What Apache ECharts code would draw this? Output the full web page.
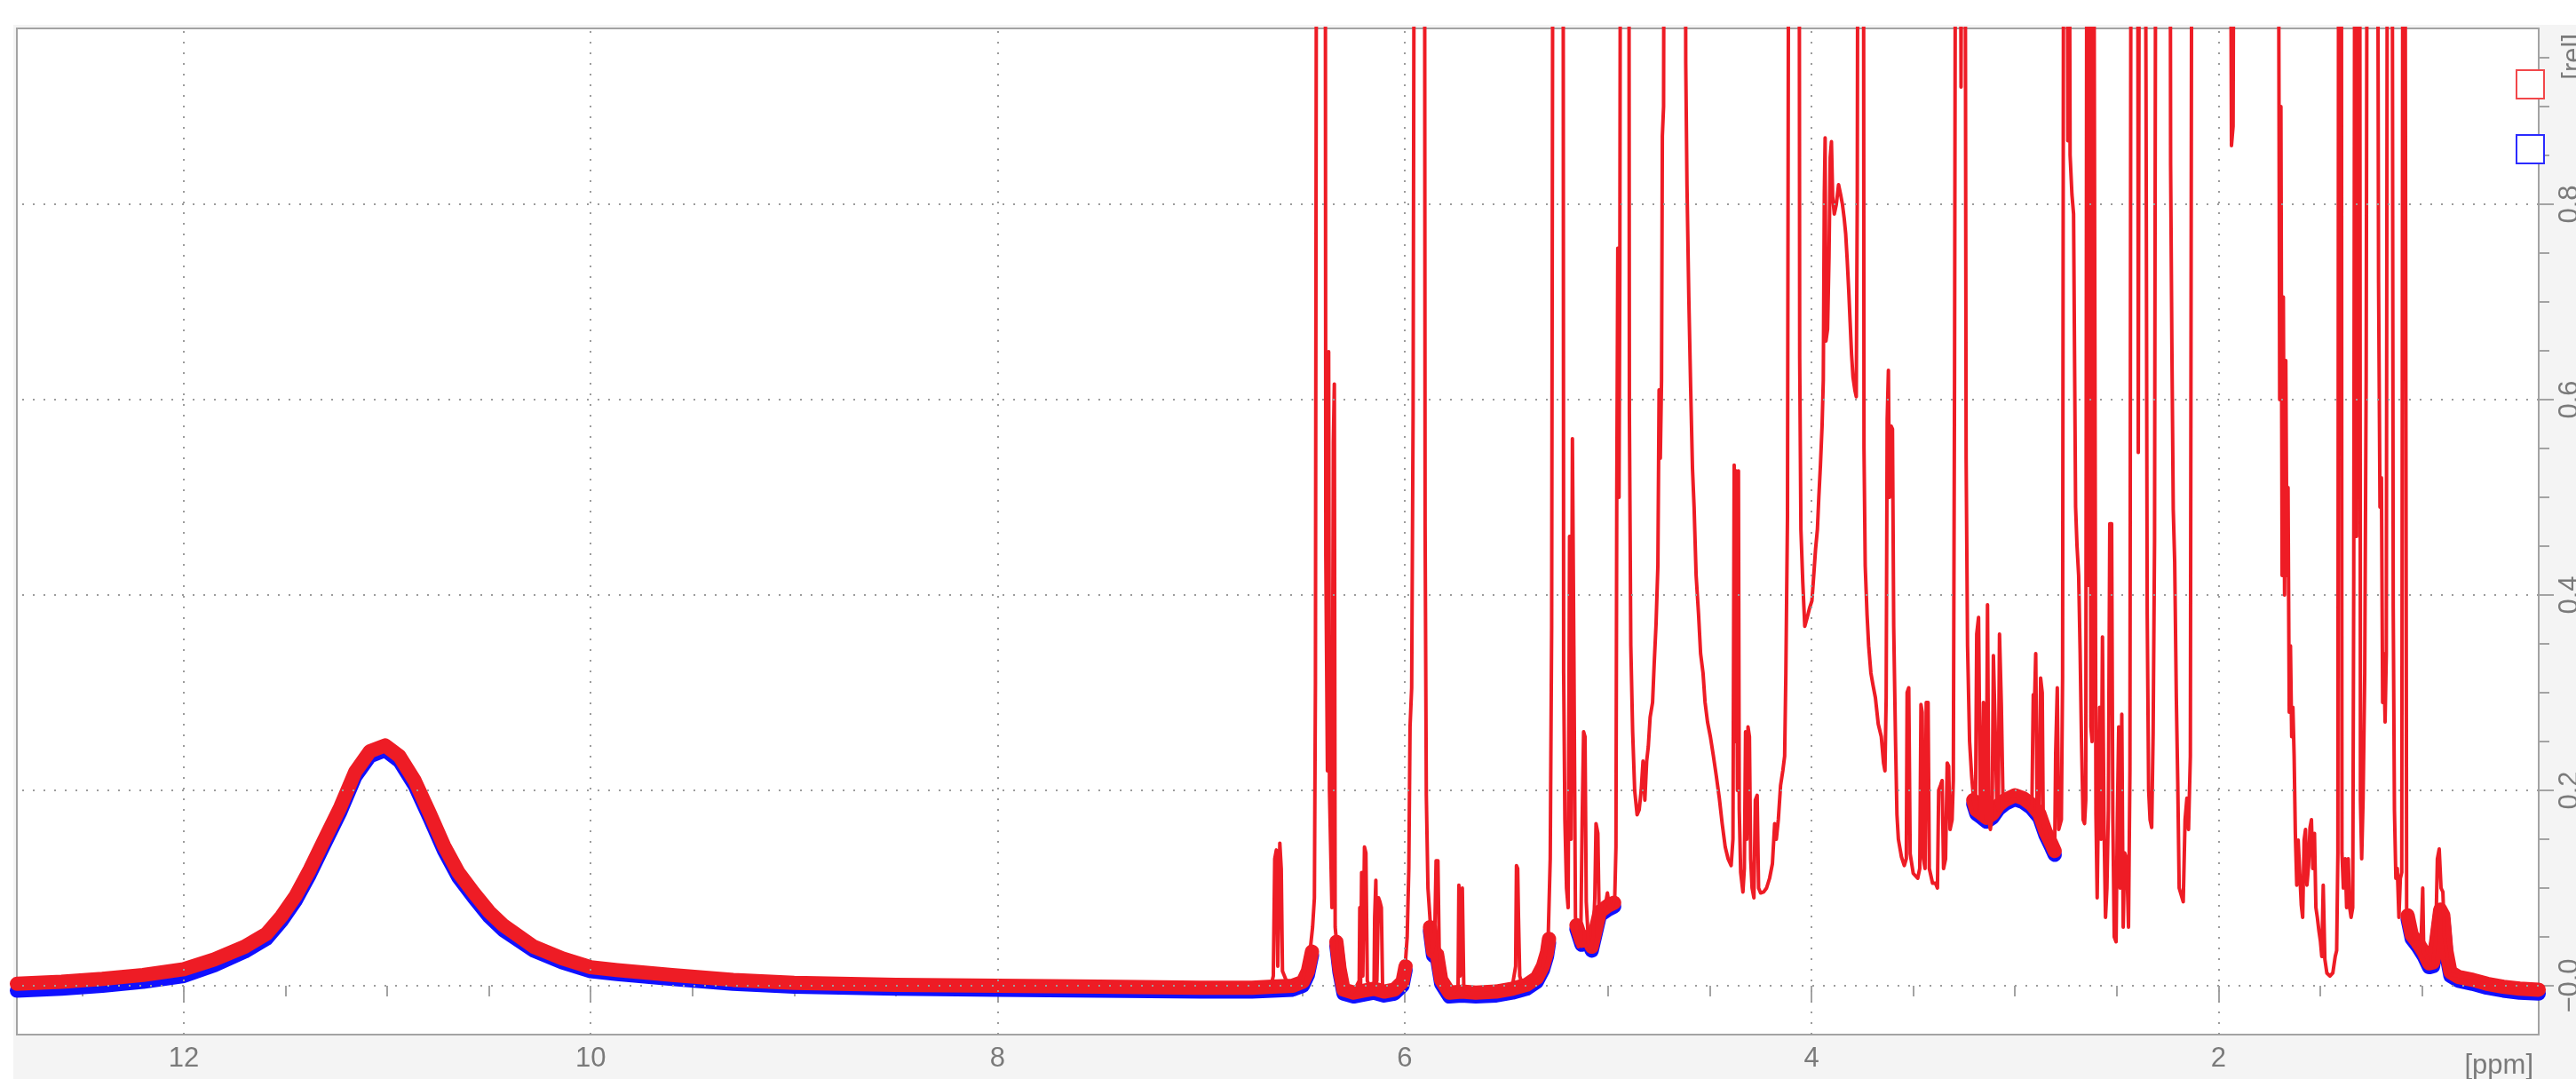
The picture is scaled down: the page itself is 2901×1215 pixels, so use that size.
<!DOCTYPE html>
<html><head><meta charset="utf-8">
<script src="https://cdn.jsdelivr.net/npm/echarts@6/dist/echarts.min.js"></script>
<style>html,body{margin:0;padding:0;background:#fff}#c{width:2901px;height:1215px}</style>
</head><body><div id="c"></div>
<script>
const TOP = 1.3; // off-scale intensity (clipped at the top of the plot)

// Red spectrum, 6.8 - 0.43 ppm (ppm positions and relative intensities)
const specPpm = [6.790,6.745,6.703,6.660,6.645,6.638,6.630,6.623,6.613,6.606,6.600,6.575,6.550,6.520,6.500,6.485,6.462,6.452,6.443,6.438,6.432,6.390,6.387,6.383,6.379,6.373,6.369,6.365,6.357,6.350,6.345,6.341,6.332,6.325,6.310,6.280,6.250,6.223,6.220,6.216,6.211,6.205,6.197,6.190,6.183,6.165,6.150,6.147,6.141,6.136,6.128,6.121,6.114,6.108,6.080,6.040,6.010,5.997,5.987,5.979,5.973,5.965,5.958,5.951,5.902,5.899,5.893,5.885,5.873,5.863,5.852,5.845,5.836,5.830,5.823,5.800,5.760,5.737,5.733,5.727,5.720,5.716,5.709,5.680,5.600,5.520,5.470,5.454,5.450,5.444,5.440,5.434,5.420,5.380,5.340,5.320,5.306,5.294,5.284,5.277,5.270,5.221,5.218,5.212,5.204,5.196,5.189,5.182,5.175,5.168,5.160,5.146,5.134,5.127,5.120,5.113,5.107,5.095,5.085,5.073,5.065,5.059,5.050,5.044,5.030,5.015,5.003,4.993,4.979,4.967,4.961,4.957,4.952,4.946,4.942,4.938,4.898,4.895,4.888,4.879,4.869,4.857,4.847,4.837,4.828,4.819,4.810,4.802,4.793,4.781,4.773,4.764,4.755,4.749,4.743,4.737,4.733,4.727,4.723,4.621,4.618,4.612,4.603,4.594,4.585,4.577,4.567,4.555,4.545,4.533,4.523,4.511,4.497,4.482,4.468,4.453,4.439,4.424,4.410,4.395,4.386,4.380,4.375,4.370,4.364,4.359,4.355,4.348,4.337,4.330,4.324,4.318,4.312,4.305,4.299,4.292,4.283,4.276,4.267,4.260,4.250,4.235,4.221,4.206,4.192,4.181,4.173,4.163,4.152,4.141,4.132,4.126,4.118,4.111,4.061,4.058,4.052,4.043,4.033,4.021,4.009,3.998,3.989,3.980,3.971,3.964,3.956,3.948,3.942,3.937,3.933,3.929,3.921,3.914,3.908,3.902,3.896,3.888,3.878,3.867,3.857,3.848,3.839,3.832,3.825,3.817,3.810,3.803,3.796,3.787,3.780,3.775,3.771,3.745,3.742,3.736,3.727,3.719,3.708,3.698,3.686,3.672,3.657,3.646,3.639,3.633,3.628,3.622,3.617,3.609,3.602,3.596,3.587,3.580,3.573,3.558,3.544,3.534,3.530,3.522,3.515,3.500,3.478,3.468,3.462,3.456,3.450,3.442,3.436,3.427,3.421,3.405,3.391,3.381,3.375,3.366,3.358,3.351,3.341,3.333,3.326,3.319,3.309,3.303,3.297,3.291,3.270,3.265,3.259,3.246,3.240,3.233,3.223,3.213,3.203,3.194,3.188,3.179,3.170,3.162,3.155,3.147,3.141,3.135,3.128,3.121,3.112,3.106,3.098,3.089,3.082,3.076,3.067,3.059,3.041,3.019,2.997,2.976,2.954,2.932,2.917,2.910,2.904,2.898,2.891,2.881,2.874,2.866,2.861,2.845,2.830,2.816,2.805,2.800,2.792,2.785,2.772,2.766,2.760,2.745,2.740,2.735,2.729,2.720,2.712,2.702,2.695,2.687,2.680,2.673,2.665,2.658,2.652,2.646,2.639,2.633,2.627,2.621,2.614,2.607,2.602,2.596,2.590,2.584,2.577,2.570,2.562,2.555,2.548,2.541,2.534,2.525,2.519,2.512,2.503,2.497,2.490,2.483,2.475,2.468,2.461,2.451,2.442,2.435,2.429,2.397,2.394,2.388,2.362,2.356,2.350,2.343,2.336,2.328,2.321,2.314,2.307,2.238,2.235,2.229,2.222,2.215,2.207,2.200,2.193,2.183,2.173,2.164,2.155,2.147,2.138,2.130,1.943,1.936,1.928,1.922,1.706,1.703,1.699,1.693,1.687,1.681,1.675,1.669,1.663,1.658,1.652,1.646,1.640,1.634,1.628,1.622,1.615,1.608,1.601,1.593,1.586,1.579,1.572,1.565,1.557,1.550,1.543,1.536,1.528,1.521,1.514,1.506,1.499,1.492,1.485,1.477,1.467,1.452,1.438,1.426,1.419,1.413,1.409,1.396,1.393,1.386,1.377,1.370,1.362,1.355,1.348,1.340,1.335,1.329,1.321,1.315,1.306,1.302,1.296,1.289,1.281,1.274,1.268,1.219,1.213,1.206,1.199,1.193,1.187,1.181,1.175,1.169,1.147,1.141,1.135,1.128,1.121,1.113,1.106,1.099,1.093,1.084,1.080,1.075,1.066,1.055,1.040,1.023,1.005,0.996,0.991,0.979,0.964,0.947,0.932,0.924,0.915,0.906,0.897,0.889,0.877,0.863,0.819,0.746,0.674,0.601,0.528,0.426];
const specRed = [0.000,-0.004,0.000,-0.003,0.010,0.130,0.139,0.020,0.146,0.120,0.015,0.002,0.000,0.003,0.006,0.020,0.040,0.060,0.090,0.310,TOP,TOP,0.440,0.330,0.220,0.649,0.200,0.160,0.080,0.556,0.616,0.060,0.040,0.015,-0.005,-0.010,-0.006,0.005,0.080,0.000,0.116,0.010,0.142,0.136,0.005,-0.004,0.000,0.070,0.108,0.005,0.090,0.086,0.080,0.000,-0.010,-0.005,0.002,0.020,0.050,0.120,0.265,0.305,0.586,TOP,TOP,0.470,0.195,0.100,0.063,0.035,0.050,0.128,0.128,0.040,0.010,-0.008,-0.008,0.000,0.103,0.010,0.080,0.100,0.000,-0.008,-0.008,-0.005,0.000,0.020,0.123,0.120,0.070,0.010,0.000,0.005,0.012,0.020,0.035,0.050,0.130,0.368,TOP,TOP,0.320,0.170,0.100,0.080,0.460,0.150,0.560,0.348,0.070,0.040,0.045,0.170,0.260,0.255,0.086,0.040,0.035,0.050,0.090,0.166,0.156,0.076,0.075,0.080,0.095,0.080,0.080,0.090,0.142,0.500,0.755,0.500,0.730,TOP,TOP,0.586,0.348,0.260,0.200,0.175,0.180,0.200,0.230,0.190,0.230,0.245,0.275,0.290,0.330,0.370,0.430,0.610,0.540,0.620,0.870,0.900,TOP,TOP,0.944,0.820,0.705,0.613,0.530,0.490,0.420,0.380,0.340,0.320,0.290,0.270,0.255,0.235,0.215,0.192,0.166,0.142,0.130,0.123,0.150,0.533,0.250,0.527,0.200,0.527,0.180,0.116,0.096,0.120,0.260,0.150,0.265,0.255,0.130,0.100,0.090,0.190,0.195,0.100,0.095,0.096,0.100,0.110,0.125,0.166,0.150,0.170,0.205,0.220,0.235,0.320,0.480,TOP,TOP,0.642,0.467,0.414,0.368,0.377,0.387,0.394,0.420,0.447,0.467,0.500,0.533,0.573,0.620,0.810,0.868,0.660,0.672,0.745,0.848,0.864,0.808,0.790,0.800,0.820,0.810,0.800,0.785,0.770,0.745,0.712,0.679,0.646,0.623,0.610,0.603,0.810,TOP,TOP,0.550,0.430,0.380,0.348,0.320,0.308,0.295,0.268,0.255,0.228,0.220,0.295,0.580,0.630,0.500,0.573,0.570,0.368,0.250,0.175,0.150,0.132,0.123,0.130,0.300,0.305,0.135,0.115,0.110,0.120,0.288,0.280,0.130,0.120,0.290,0.290,0.120,0.105,0.105,0.100,0.200,0.205,0.210,0.120,0.130,0.228,0.225,0.160,0.170,0.210,0.620,TOP,TOP,0.920,TOP,TOP,0.540,0.348,0.250,0.215,0.190,0.180,0.360,0.377,0.180,0.170,0.290,0.180,0.170,0.390,0.170,0.160,0.175,0.338,0.270,0.185,0.180,0.360,0.288,0.192,0.190,0.195,0.195,0.190,0.190,0.185,0.180,0.298,0.290,0.340,0.180,0.175,0.315,0.300,0.165,0.155,0.150,0.140,0.135,0.238,0.305,0.160,0.170,0.315,TOP,TOP,0.865,TOP,0.850,0.810,0.790,0.490,0.450,0.420,0.345,0.250,0.170,0.166,0.190,TOP,0.410,TOP,0.265,0.250,TOP,TOP,0.175,0.090,0.090,0.285,0.150,0.357,0.160,0.070,0.100,0.180,0.473,0.473,0.170,0.050,0.045,0.170,0.265,0.100,0.278,0.060,0.136,0.130,0.060,0.220,TOP,TOP,0.546,TOP,TOP,0.927,0.380,0.200,0.170,0.162,0.258,0.454,TOP,TOP,0.840,0.660,0.487,0.434,0.295,0.209,0.100,0.093,0.086,0.170,0.192,0.160,0.235,TOP,TOP,0.860,0.880,TOP,TOP,0.957,0.600,0.900,0.420,0.705,0.400,0.640,0.420,0.510,0.280,0.348,0.255,0.285,0.235,0.155,0.103,0.149,0.150,0.083,0.070,0.149,0.160,0.103,0.123,0.162,0.170,0.120,0.156,0.080,0.070,0.056,0.046,0.030,0.103,0.027,0.013,0.010,0.013,0.030,0.036,0.136,TOP,TOP,0.136,0.100,0.130,0.080,0.130,0.080,0.070,0.080,0.420,TOP,0.460,TOP,TOP,0.190,0.130,0.192,0.320,0.620,TOP,TOP,0.720,0.490,0.520,0.290,0.340,0.270,0.340,TOP,TOP,0.387,0.180,0.110,0.120,0.070,0.110,0.116,TOP,TOP,0.775,0.076,0.070,0.050,0.040,0.045,0.040,0.100,0.035,0.030,0.023,0.020,0.050,0.130,0.140,0.100,0.096,0.050,0.030,0.012,0.010,0.008,0.004,0.000,-0.002,-0.003];

// Noise band / background of both spectra (null = gap under a tall peak)
const bandPpm = [12.82,12.60,12.40,12.20,12.00,11.85,11.70,11.594,11.52,11.45,11.38,11.31,11.23,11.157,11.085,11.01,10.94,10.865,10.79,10.72,10.65,10.574,10.50,10.43,10.28,10.14,10.00,9.87,9.60,9.30,9.00,8.50,8.00,7.50,7.00,6.75,6.65,6.55,6.50,6.475,6.455,6.40,
 6.335,6.32,6.30,6.25,6.20,6.15,6.10,6.05,6.01,5.995,5.93,
 5.875,5.86,5.84,5.82,5.78,5.72,5.65,5.55,5.47,5.40,5.35,5.32,5.30,5.29,5.22,
 5.155,5.13,5.10,5.08,5.04,5.00,4.97,4.60,
 3.205,3.19,3.17,3.14,3.11,3.08,3.05,3.00,2.96,2.92,2.88,2.85,2.82,2.805,2.00,
 1.07,1.05,1.02,0.99,0.965,0.945,0.93,0.91,0.895,0.88,0.86,0.82,0.75,0.68,0.60,0.52,0.426];
const bandRed = [0.002,0.004,0.007,0.011,0.017,0.027,0.040,0.053,0.071,0.092,0.119,0.149,0.183,0.219,0.240,0.246,0.235,0.210,0.176,0.143,0.116,0.095,0.076,0.062,0.040,0.028,0.019,0.016,0.011,0.006,0.003,0.001,0.000,-0.001,-0.002,-0.002,-0.001,0.000,0.004,0.015,0.035,null,
 0.045,0.018,-0.004,-0.007,-0.005,-0.003,-0.006,-0.004,0.004,0.020,null,
 0.060,0.035,0.032,0.006,-0.007,-0.006,-0.007,-0.006,-0.003,0.001,0.008,0.020,0.034,0.048,null,
 0.062,0.046,0.050,0.040,0.076,0.082,0.085,null,
 0.190,0.180,0.177,0.172,0.176,0.185,0.190,0.195,0.192,0.186,0.176,0.158,0.145,0.138,null,
 0.072,0.052,0.044,0.034,0.023,0.024,0.045,0.078,0.072,0.036,0.014,0.009,0.006,0.002,-0.001,-0.003,-0.004];
const bandBlue = [-0.005,-0.003,0.000,0.004,0.010,0.021,0.035,0.048,0.066,0.087,0.114,0.144,0.178,0.214,0.235,0.241,0.230,0.205,0.171,0.138,0.111,0.090,0.071,0.057,0.036,0.024,0.015,0.012,0.007,0.002,-0.001,-0.003,-0.004,-0.005,-0.006,-0.006,-0.005,-0.004,0.000,0.011,0.031,null,
 0.041,0.014,-0.008,-0.011,-0.009,-0.007,-0.010,-0.008,0.000,0.016,null,
 0.056,0.031,0.028,0.002,-0.011,-0.010,-0.011,-0.010,-0.007,-0.003,0.004,0.016,0.030,0.044,null,
 0.058,0.042,0.046,0.036,0.072,0.078,0.081,null,
 0.186,0.176,0.173,0.168,0.172,0.181,0.186,0.191,0.188,0.182,0.172,0.154,0.141,0.134,null,
 0.068,0.048,0.040,0.030,0.019,0.020,0.041,0.074,0.068,0.032,0.010,0.005,0.002,-0.002,-0.005,-0.007,-0.008];

// Axis ticks and labels
const xMajor = [2,4,6,8,10,12];
const xMinor = [0.5,1,1.5,2,2.5,3,3.5,4,4.5,5,5.5,6,6.5,7,7.5,8,8.5,9,9.5,10,10.5,11,11.5,12,12.5];
const yMajor = [0,0.2,0.4,0.6,0.8];
const yLabels = ['\u22120.0','0.2','0.4','0.6','0.8'];
const yMinor = [0,0.05,0.1,0.15,0.2,0.25,0.3,0.35,0.4,0.45,0.5,0.55,0.6,0.65,0.7,0.75,0.8,0.85,0.9,0.95];
const seriesNames = ['red','blue'];

const RED = '#ee1c25', BLUE = '#1010ff', GRAY = '#a3a3a3', TXT = '#7a7a7a';
const FONT = 'Liberation Sans';
const pairs = (xs, ys) => xs.map((x, i) => [x, ys[i] === null ? '-' : ys[i]]);

const chart = echarts.init(document.getElementById('c'), null, {renderer: 'canvas'});
const xBase = {type: 'value', inverse: true, min: 0.426, max: 12.82, position: 'bottom',
  axisLine: {show: false}, splitLine: {show: false}, gridIndex: 0};
const yBase = {type: 'value', min: -0.05, max: 0.98, position: 'right',
  axisLine: {show: false}, splitLine: {show: false}, gridIndex: 0};
chart.setOption({
  animation: false,
  backgroundColor: '#f4f4f4',
  grid: {left: 19, top: 32, right: 42, bottom: 50, show: true, backgroundColor: '#ffffff',
    borderColor: GRAY, borderWidth: 2, containLabel: false, outerBoundsMode: 'none'},
  xAxis: [
    Object.assign({}, xBase, {axisTick: {show: true, length: 12, customValues: xMinor, lineStyle: {color: GRAY, width: 2}},
      axisLabel: {show: false}}),
    Object.assign({}, xBase, {axisTick: {show: true, length: 17, customValues: xMajor, lineStyle: {color: GRAY, width: 2}},
      axisLabel: {show: true, customValues: xMajor, margin: 12, color: TXT, fontSize: 31, fontFamily: FONT,
        formatter: v => String(v)}})
  ],
  yAxis: [
    Object.assign({}, yBase, {axisTick: {show: true, length: 12, customValues: yMinor, lineStyle: {color: GRAY, width: 2}},
      axisLabel: {show: false}}),
    Object.assign({}, yBase, {axisTick: {show: true, length: 17, customValues: yMajor, lineStyle: {color: GRAY, width: 2}},
      axisLabel: {show: true, customValues: yMajor, rotate: 90, margin: 20, color: TXT, fontSize: 31, fontFamily: FONT,
        formatter: v => { const i = yMajor.findIndex(m => Math.abs(m - v) < 1e-9); return i >= 0 ? yLabels[i] : ''; }}})
  ],
  legend: {
    orient: 'vertical', left: 2828, top: 73, itemWidth: 31, itemHeight: 32, itemGap: 39,
    selectedMode: false, formatter: () => '', textStyle: {fontSize: 1},
    data: [
      {name: seriesNames[0], icon: 'rect', itemStyle: {color: '#ffffff', borderColor: '#f2474a', borderWidth: 2}},
      {name: seriesNames[1], icon: 'rect', itemStyle: {color: '#ffffff', borderColor: '#2b2bff', borderWidth: 2}}
    ]
  },
  graphic: [
    {type: 'rect', silent: true, shape: {x: 0, y: 0, width: 2901, height: 28}, style: {fill: '#ffffff'}},
    {type: 'rect', silent: true, shape: {x: 0, y: 0, width: 15, height: 1215}, style: {fill: '#ffffff'}},
    {type: 'text', silent: true, x: 2883, y: 38, rotation: Math.PI / 2,
      style: {text: '[rel]', fill: TXT, fontSize: 31, fontFamily: FONT, align: 'right', verticalAlign: 'top'}},
    {type: 'text', silent: true, x: 2853, y: 1185,
      style: {text: '[ppm]', fill: TXT, fontSize: 31, fontFamily: FONT, align: 'right', verticalAlign: 'top'}}
  ],
  series: [
    {type: 'line', name: 'grid', data: [], z: 1, silent: true,
      markLine: {silent: true, symbol: ['none', 'none'], label: {show: false}, animation: false,
        lineStyle: {type: [2, 10], color: '#9c9c9c', width: 2},
        data: xMajor.map(v => ({xAxis: v})).concat(yMajor.map(v => ({yAxis: v})))}},
    {type: 'line', name: seriesNames[1], data: pairs(bandPpm, bandBlue), z: 2, showSymbol: false, connectNulls: false,
      lineStyle: {color: BLUE, width: 16, join: 'round', cap: 'round'}, itemStyle: {color: BLUE}},
    {type: 'line', name: seriesNames[0], data: pairs(bandPpm, bandRed), z: 3, showSymbol: false, connectNulls: false,
      lineStyle: {color: RED, width: 16, join: 'round', cap: 'round'}, itemStyle: {color: RED}},
    {type: 'line', name: seriesNames[0], data: pairs(specPpm, specRed), z: 4, showSymbol: false,
      lineStyle: {color: RED, width: 4, join: 'round'}, itemStyle: {color: RED}}
  ]
});
</script></body></html>
